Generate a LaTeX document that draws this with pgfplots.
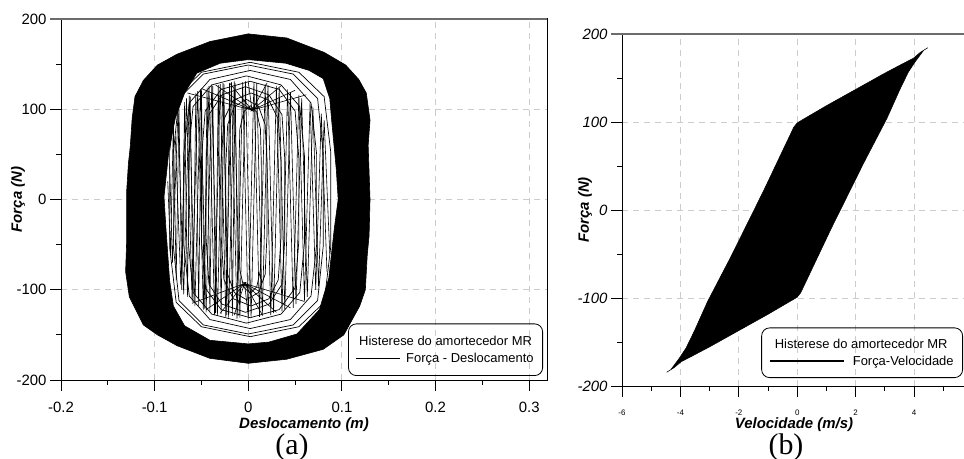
\documentclass[border=0pt]{standalone}
\usepackage{fontspec}
\setmainfont{Liberation Sans}
\newfontfamily\timesfont{Liberation Serif}
\usepackage{pgfplots}
\pgfplotsset{compat=1.18}

\pgfplotsset{
  myaxis/.style={
    scale only axis,
    axis line style={black, line width=1bp},
    tick align=outside,
    xtick pos=left, ytick pos=left,
    major tick length=11bp, minor tick length=5bp,
    every tick/.style={black, line width=1bp},
    grid=major,
    major grid style={gray!40, dash pattern=on 6bp off 5bp, line width=0.9bp},
    label style={font=\fontsize{15}{17}\selectfont\bfseries\itshape},
    tick label style={font=\fontsize{15}{17}\selectfont},
    ymin=-200, ymax=200,
    ytick={-200,-100,0,100,200},
    yticklabels={-200,-100,0,100,200},
    minor ytick={-150,-50,50,150},
    legend cell align=left,
  }
}

\begin{document}
\begin{tikzpicture}
\path[use as bounding box] (0bp,0bp) rectangle (964bp,459bp);

% ---------------- (a) Força - Deslocamento ----------------
\begin{axis}[myaxis,
  at={(61bp,79bp)}, anchor=south west,
  width=486bp, height=361bp,
  xmin=-0.2, xmax=0.319,
  xtick={-0.2,-0.1,0,0.1,0.2,0.3},
  xticklabels={-0.2,-0.1,0,0.1,0.2,0.3},
  minor xtick={-0.15,-0.05,0.05,0.15,0.25},
  xticklabel style={yshift=-8bp},
  xlabel={Deslocamento (m)},
  ylabel={Força (N)},
  xlabel style={at={([yshift=-45bp]axis description cs:0.5,0)}, anchor=center},
  ylabel style={at={([xshift=-43bp]axis description cs:0,0.5)}, anchor=center},
  legend style={draw=black, fill=none, line width=0.8bp, rounded corners=8bp,
    font=\fontsize{13}{15}\selectfont,
    at={(0.9918,0.0111)}, anchor=south east,
    inner xsep=7bp, inner ysep=10bp, row sep=2bp},
  legend image code/.code={\draw[#1] (0bp,0bp) -- (44bp,0bp); \path (48bp,0bp);},
  after end axis/.code={
    \draw[gray!85!black, line width=2bp] ([xshift=-11bp]rel axis cs:0,1) -- (rel axis cs:1,1);
  },
  extra description/.code={
    \node[font=\timesfont\fontsize{30}{32}\selectfont] at ([xshift=-12bp,yshift=-67bp]axis description cs:0.5,0) {(a)};
  },
]
% dense band of the outer cycles (outer and inner border of the ring)
\addplot[fill=black, draw=black, line width=0.6bp, even odd rule, unbounded coords=jump, forget plot] coordinates {
(0,183.5) (0.041,179) (0.081,163) (0.104,149) (0.118,133) (0.126,118) (0.130,88) (0.128,60) (0.129,30) (0.130,0) (0.129,-40) (0.127,-62) (0.125,-100) (0.119,-118) (0.102,-150) (0.080,-166) (0.041,-177) (0,-181.5) (-0.041,-176) (-0.076,-162) (-0.097,-150) (-0.112,-139) (-0.127,-108) (-0.131,-80) (-0.130,-50) (-0.130,7) (-0.128,40) (-0.126,59) (-0.124,90) (-0.121,114) (-0.112,132) (-0.097,149) (-0.076,161) (-0.041,175) (0,183.5)
(nan,nan)
(0,155) (0.04,151) (0.065,143) (0.080,134) (0.087,112) (0.089,88) (0.094,33) (0.096,0) (0.092,-31) (0.086,-87) (0.076,-122) (0.052,-149) (0.022,-158) (0,-160) (-0.041,-156) (-0.068,-140) (-0.080,-118) (-0.084,-90) (-0.088,-31) (-0.090,3) (-0.085,52) (-0.078,90) (-0.068,118) (-0.055,140) (-0.03,151) (0,155)
};
% inner cycles
\addplot[black, line width=0.7bp, forget plot] coordinates {(0.002,104) (0.009,97) (0.013,78) (0.014,36) (0.014,-36) (0.013,-78) (0.009,-97) (0.002,-104) (-0.005,-97) (-0.009,-78) (-0.010,-36) (-0.010,36) (-0.009,78) (-0.005,97) (0.002,104)};
\addplot[black, line width=0.7bp, forget plot] coordinates {(-0.002,111) (0.011,103) (0.018,83) (0.020,39) (0.020,-39) (0.018,-83) (0.011,-103) (-0.002,-111) (-0.015,-103) (-0.022,-83) (-0.024,-39) (-0.024,39) (-0.022,83) (-0.015,103) (-0.002,111)};
\addplot[black, line width=0.7bp, forget plot] coordinates {(0.003,118) (0.022,110) (0.032,89) (0.035,41) (0.035,-41) (0.032,-89) (0.022,-110) (0.003,-118) (-0.016,-110) (-0.026,-89) (-0.029,-41) (-0.029,41) (-0.026,89) (-0.016,110) (0.003,118)};
\addplot[black, line width=0.7bp, forget plot] coordinates {(-0.003,125) (0.022,116) (0.036,94) (0.039,44) (0.039,-44) (0.036,-94) (0.022,-116) (-0.003,-125) (-0.028,-116) (-0.042,-94) (-0.045,-44) (-0.045,44) (-0.042,94) (-0.028,116) (-0.003,125)};
\addplot[black, line width=0.7bp, forget plot] coordinates {(0.002,131) (0.033,122) (0.050,98) (0.054,46) (0.054,-46) (0.050,-98) (0.033,-122) (0.002,-131) (-0.029,-122) (-0.046,-98) (-0.050,-46) (-0.050,46) (-0.046,98) (-0.029,122) (0.002,131)};
\addplot[black, line width=0.7bp, forget plot] coordinates {(-0.002,137) (0.035,127) (0.055,103) (0.060,48) (0.060,-48) (0.055,-103) (0.035,-127) (-0.002,-137) (-0.039,-127) (-0.059,-103) (-0.064,-48) (-0.064,48) (-0.059,103) (-0.039,127) (-0.002,137)};
\addplot[black, line width=0.7bp, forget plot] coordinates {(0.002,143) (0.045,133) (0.067,107) (0.073,50) (0.073,-50) (0.067,-107) (0.045,-133) (0.002,-143) (-0.041,-133) (-0.063,-107) (-0.069,-50) (-0.069,50) (-0.063,107) (-0.041,133) (0.002,143)};
\addplot[black, line width=0.7bp, forget plot] coordinates {(0,149) (0.048,139) (0.074,112) (0.080,52) (0.080,-52) (0.074,-112) (0.048,-139) (0,-149) (-0.048,-139) (-0.074,-112) (-0.080,-52) (-0.080,52) (-0.074,112) (-0.048,139) (0,149)};
\addplot[black, line width=0.7bp, forget plot] coordinates {(0.002,152) (0.054,141) (0.081,114) (0.088,53) (0.088,-53) (0.081,-114) (0.054,-141) (0.002,-152) (-0.050,-141) (-0.077,-114) (-0.084,-53) (-0.084,53) (-0.077,114) (-0.050,141) (0.002,152)};
% near-vertical strokes between successive samples
\addplot[black, line width=0.6bp, forget plot] coordinates {(-0.078,70) (-0.072,-95) (-0.066,112) (-0.060,-112) (-0.054,120) (-0.048,-122) (-0.042,126) (-0.036,-128) (-0.030,128) (-0.024,-130) (-0.018,130) (-0.012,-132) (-0.006,130) (0.000,-132) (0.006,130) (0.012,-130) (0.018,128) (0.024,-128) (0.030,126) (0.036,-124) (0.042,122) (0.048,-120) (0.054,116) (0.060,-112) (0.066,108) (0.072,-100) (0.078,95) (0.084,-80)};
\addplot[black, line width=0.6bp, forget plot] coordinates {(-0.084,40) (-0.081,-70) (-0.075,100) (-0.069,-105) (-0.063,115) (-0.057,-118) (-0.051,122) (-0.045,-125) (-0.039,127) (-0.033,-129) (-0.027,129) (-0.021,-131) (-0.015,131) (-0.009,-131) (-0.003,131) (0.003,-131) (0.009,129) (0.015,-129) (0.021,127) (0.027,-126) (0.033,124) (0.039,-122) (0.045,119) (0.051,-116) (0.057,112) (0.063,-108) (0.069,103) (0.075,-96) (0.081,88) (0.087,-60)};
\addplot[black, line width=0.6bp, forget plot] coordinates {(-0.086,20) (-0.083,-60) (-0.080,85) (-0.077,-90) (-0.074,100) (-0.071,-100) (-0.068,108) (-0.065,-108) (-0.062,114) (-0.059,-114) (-0.056,118) (-0.053,-118) (-0.050,121) (-0.047,-121) (-0.044,124) (-0.041,-124) (-0.038,126) (-0.035,-126) (-0.032,127) (-0.029,-127) (-0.026,128) (-0.023,-128) (-0.020,129) (-0.017,-129) (-0.014,129) (-0.011,-129)};
% fans at the start of the motion
\addplot[black, line width=0.6bp, forget plot] coordinates {(0.004,99) (-0.065,118) (0.004,99) (-0.05,123) (0.004,99) (-0.035,127) (0.004,99) (-0.02,129) (0.004,99) (0.0,130) (0.004,99) (0.02,129) (0.004,99) (0.035,126) (0.004,99) (0.05,121) (0.004,99) (0.062,116)};
\addplot[black, line width=0.6bp, forget plot] coordinates {(-0.004,-93) (-0.06,-115) (-0.004,-93) (-0.045,-122) (-0.004,-93) (-0.03,-126) (-0.004,-93) (-0.015,-128) (-0.004,-93) (0,-129) (-0.004,-93) (0.015,-128) (-0.004,-93) (0.03,-125) (-0.004,-93) (0.045,-120) (-0.004,-93) (0.06,-113)};

\addlegendimage{empty legend}
\addlegendentry{\hspace*{-47bp}Histerese do amortecedor MR}
\addlegendimage{black, line width=0.8bp}
\addlegendentry{Força - Deslocamento}
\end{axis}

% ---------------- (b) Força - Velocidade ----------------
\begin{axis}[myaxis,
  at={(622bp,73bp)}, anchor=south west,
  width=344bp, height=352bp,
  xmin=-6, xmax=5.78,
  xtick={-6,-4,-2,0,2,4},
  xticklabels={-6,-4,-2,0,2,4},
  minor xtick={-5,-3,-1,1,3,5},
  xticklabel style={font=\fontsize{8}{9}\selectfont, yshift=-9bp},
  yticklabel style={font=\fontsize{15}{17}\selectfont\itshape},
  xlabel={Velocidade (m/s)},
  ylabel={Força (N)},
  xlabel style={at={([yshift=-39bp]axis description cs:0.5,0)}, anchor=center},
  ylabel style={at={([xshift=-37bp]axis description cs:0,0.5)}, anchor=center},
  legend style={draw=black, fill=none, line width=0.8bp, rounded corners=8bp,
    font=\fontsize{13}{15}\selectfont,
    at={(0.9913,0.0227)}, anchor=south east,
    inner xsep=7bp, inner ysep=9bp, row sep=2bp},
  legend image code/.code={\draw[#1] (0bp,0bp) -- (74bp,0bp); \path (80bp,0bp);},
  after end axis/.code={
    \draw[gray!85!black, line width=1.5bp] ([xshift=-11bp]rel axis cs:0,1) -- (rel axis cs:1,1);
  },
  extra description/.code={
    \node[font=\timesfont\fontsize{30}{32}\selectfont] at ([xshift=-8bp,yshift=-61bp]axis description cs:0.5,0) {(b)};
  },
]
\addplot[fill=black, draw=black, line width=0.5bp, forget plot] coordinates {
(0,99) (0.15,102) (1,118.5) (2,137) (3,155.5) (3.6,166) (3.98,172.5) (4.21,179) (4.47,184.4)
(4.33,181.5) (4.04,168.5) (3.81,157) (3.53,138) (3.07,104) (2.27,53) (1.15,-22) (0.22,-87) (0.12,-94)
(0,-99) (-0.15,-102) (-1,-118.5) (-2,-137) (-3,-155.5) (-3.6,-166) (-3.98,-172.5) (-4.21,-179) (-4.47,-184.4)
(-4.33,-181.5) (-4.04,-168.5) (-3.81,-157) (-3.53,-138) (-3.07,-104) (-2.27,-53) (-1.15,22) (-0.22,87) (-0.12,94) (0,99)
};
\addlegendimage{empty legend}
\addlegendentry{\hspace*{-78bp}Histerese do amortecedor MR}
\addlegendimage{black, line width=2.2bp}
\addlegendentry{Força-Velocidade}
\end{axis}
\end{tikzpicture}
\end{document}
